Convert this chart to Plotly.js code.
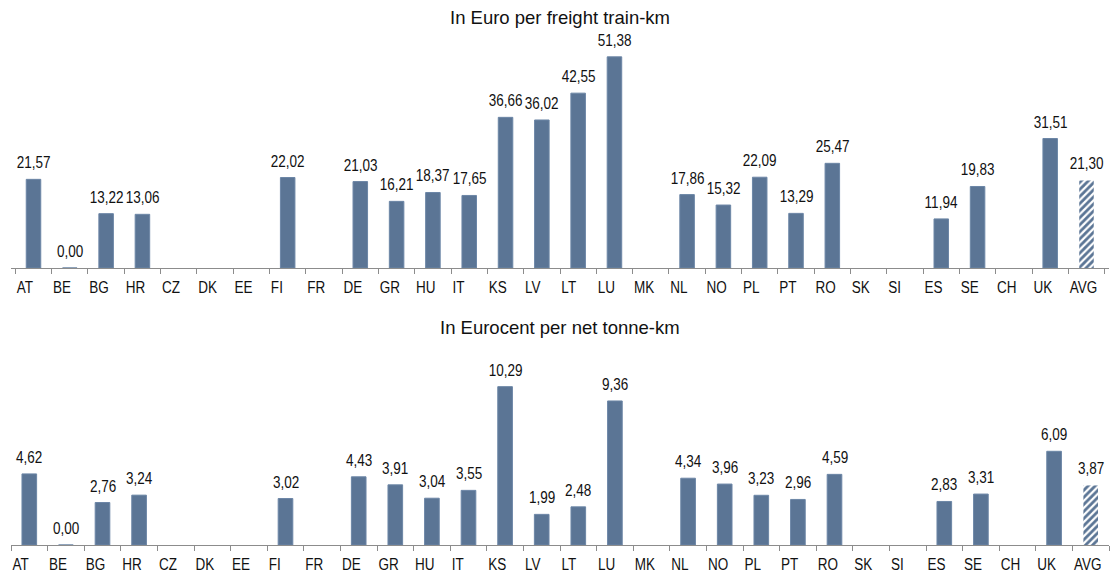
<!DOCTYPE html>
<html>
<head>
<meta charset="utf-8">
<script src="https://cdn.plot.ly/plotly-3.0.1.min.js"></script>
<style>html,body{margin:0;padding:0;background:#fff;}#chart{width:1115px;height:572px;}</style>
</head>
<body>
<div id="chart"></div>
<script>
const categories = ["AT","BE","BG","HR","CZ","DK","EE","FI","FR","DE","GR","HU","IT","KS","LV","LT","LU","MK","NL","NO","PL","PT","RO","SK","SI","ES","SE","CH","UK"];
const avgLabel = "AVG";
const perTrainKm = [21.57,0.00,13.22,13.06,null,null,null,22.02,null,21.03,16.21,18.37,17.65,36.66,36.02,42.55,51.38,null,17.86,15.32,22.09,13.29,25.47,null,null,11.94,19.83,null,31.51];
const perTrainKmAvg = 21.30;
const perTonneKm = [4.62,0.00,2.76,3.24,null,null,null,3.02,null,4.43,3.91,3.04,3.55,10.29,1.99,2.48,9.36,null,4.34,3.96,3.23,2.96,4.59,null,null,2.83,3.31,null,6.09];
const perTonneKmAvg = 3.87;
const titles = ["In Euro per freight train-km", "In Eurocent per net tonne-km"];

const allCats = categories.concat([avgLabel]);
const barColor = "#5b7595";
const fontFam = "'Liberation Sans', Arial, sans-serif";
const lblSize = 16.5;
const txtFont = {family: fontFam, size: lblSize, color: "#111"};

function mainTrace(vals, xa, ya) {
  return {type: "bar", x: categories, y: vals, xaxis: xa, yaxis: ya,
    marker: {color: barColor, line: {color: "#6c86a6", width: 1}},
    width: 0.4, hoverinfo: "x+y", showlegend: false};
}
function avgTrace(val, xa, ya) {
  return {type: "bar", x: [avgLabel], y: [val], xaxis: xa, yaxis: ya,
    marker: {color: "#ffffff", line: {width: 0},
      pattern: {shape: "/", fgcolor: barColor, bgcolor: "#ffffff", size: 5, solidity: 0.55}},
    width: 0.4, hoverinfo: "x+y", showlegend: false};
}
function valueLabels(cats, vals, xa, ya) {
  const out = [];
  cats.forEach((c, i) => {
    if (vals[i] === null) return;
    out.push({x: c, y: vals[i], xref: xa, yref: ya, text: vals[i].toFixed(2).replace(".", ","),
      showarrow: false, xanchor: "center", yanchor: "bottom", yshift: 6, font: txtFont});
  });
  return out;
}

const data = [
  mainTrace(perTrainKm, "x", "y"), avgTrace(perTrainKmAvg, "x", "y"),
  mainTrace(perTonneKm, "x2", "y2"), avgTrace(perTonneKmAvg, "x2", "y2")
];

const xCommon = {type: "category", categoryorder: "array", categoryarray: allCats,
  showline: true, linecolor: "#8c8c8c", linewidth: 1, ticks: "outside", tickson: "boundaries",
  ticklen: 5, tickcolor: "#8c8c8c", showgrid: false, zeroline: false, tickangle: 0,
  ticklabelstandoff: 4, automargin: false,
  tickfont: {family: fontFam, size: lblSize, color: "#111"}, fixedrange: true};
const yCommon = {visible: false, showgrid: false, zeroline: false, fixedrange: true, automargin: false};

const annotations = []
  .concat(valueLabels(categories, perTrainKm, "x", "y"))
  .concat(valueLabels([avgLabel], [perTrainKmAvg], "x", "y"))
  .concat(valueLabels(categories, perTonneKm, "x2", "y2"))
  .concat(valueLabels([avgLabel], [perTonneKmAvg], "x2", "y2"))
  .concat([
    {text: titles[0], xref: "paper", yref: "paper", x: 0.5, y: 1 - 18/572, xanchor: "center", yanchor: "middle",
     showarrow: false, font: {family: fontFam, size: 18.5, color: "#111"}},
    {text: titles[1], xref: "paper", yref: "paper", x: 0.5, y: 1 - 327/572, xanchor: "center", yanchor: "middle",
     showarrow: false, font: {family: fontFam, size: 18.5, color: "#111"}}
  ]);

const layout = {
  width: 1115, height: 572,
  margin: {l: 11, r: 6, t: 0, b: 0, autoexpand: false},
  paper_bgcolor: "#fff", plot_bgcolor: "#fff",
  separators: ",.",
  barmode: "overlay",
  showlegend: false,
  xaxis: Object.assign({}, xCommon, {anchor: "y", domain: [0, 1]}),
  yaxis: Object.assign({}, yCommon, {domain: [0.5315, 0.9266], range: [0, 55]}),
  xaxis2: Object.assign({}, xCommon, {anchor: "y2", domain: [0, 1]}),
  yaxis2: Object.assign({}, yCommon, {domain: [0.0472, 0.3566], range: [0, 11.5]}),
  annotations: annotations
};

// mimic the narrow (condensed) typeface of the original by squeezing labels horizontally;
// category labels start just right of the left boundary tick, as in the original
function condense(gd, s) {
  const catHalf = gd._fullLayout.xaxis._length / allCats.length / 2;
  gd.querySelectorAll("svg text").forEach(t => {
    if (titles.indexOf(t.textContent) !== -1) return;
    const isTick = t.closest("g.xtick, g.x2tick") !== null;
    let tr = t.getAttribute("transform") || "";
    if (isTick) {
      t.setAttribute("text-anchor", "start");
      tr = "translate(" + (-catHalf + 1.5) + ",0) " + tr;
    }
    const x = parseFloat(t.getAttribute("x") || "0");
    t.setAttribute("transform", tr + " translate(" + x + ",0) scale(" + s + ",1) translate(" + (-x) + ",0)");
  });
}

Plotly.newPlot("chart", data, layout, {displayModeBar: false, staticPlot: true}).then(gd => condense(gd, 0.82));
</script>
</body>
</html>
